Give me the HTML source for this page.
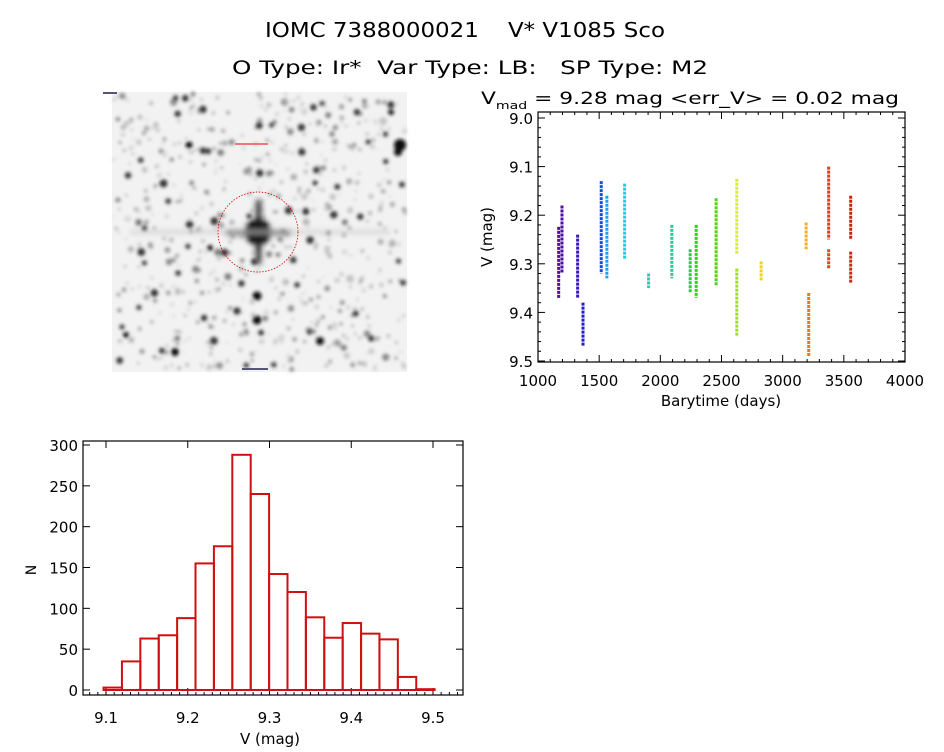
<!DOCTYPE html>
<html><head><meta charset="utf-8"><style>
body{margin:0;background:#fff;}
svg text{font-family:"DejaVu Sans","Liberation Sans",sans-serif;fill:#000;white-space:pre;}
</style></head><body>
<svg id="root" width="944" height="747" viewBox="0 0 944 747" xmlns="http://www.w3.org/2000/svg">
<text x="465" y="37" text-anchor="middle" font-size="20" textLength="400" lengthAdjust="spacingAndGlyphs" xml:space="preserve">IOMC 7388000021    V* V1085 Sco</text>
<text x="470" y="74" text-anchor="middle" font-size="19" textLength="476" lengthAdjust="spacingAndGlyphs" xml:space="preserve">O Type: Ir*  Var Type: LB:   SP Type: M2</text>
<g id="img">
<defs><filter id="bl" x="-1" y="-1" width="3" height="3"><feGaussianBlur stdDeviation="1.8"/></filter>
<filter id="bl2" x="-1" y="-1" width="3" height="3"><feGaussianBlur stdDeviation="3"/></filter></defs>
<rect x="112" y="92" width="295" height="280" fill="#f2f2f2"/>
<g id="stars" filter="url(#bl)"></g>
<g filter="url(#bl2)">
<circle cx="258" cy="232" r="13" fill="#000"/>
<rect x="226" y="230" width="64" height="5" fill="#222"/>
<rect x="256" y="200" width="5" height="64" fill="#222"/>
<rect x="130" y="231" width="260" height="2" fill="#bbb"/>
</g>
<circle cx="258" cy="232" r="40" fill="none" stroke="#c00" stroke-width="0.8" stroke-dasharray="1.5 1.5"/>
<rect x="235" y="143" width="33" height="2" fill="#e77"/>
<rect x="103" y="92" width="14" height="2" fill="#557"/>
<rect x="242" y="368" width="26" height="2" fill="#557"/>
</g>
<g id="lc"></g>
<g id="hist"></g>
</svg>
<script>
const NS="http://www.w3.org/2000/svg";
function mk(p,t,a){const e=document.createElementNS(NS,t);for(const k in a)e.setAttribute(k,a[k]);p.appendChild(e);return e;}
// decorative background stars
(function(){const g=document.getElementById('stars');let s=11;function r(){s=(s*16807)%2147483647;return s/2147483647;}
for(let i=0;i<600;i++){const x=114+r()*291,y=94+r()*276,rad=1+r()*r()*3,c=Math.floor(110+r()*110);
mk(g,'circle',{cx:x,cy:y,r:rad,fill:`rgb(${c},${c},${c})`});}
for(let i=0;i<60;i++){const x=114+r()*291,y=94+r()*276;
mk(g,'circle',{cx:x,cy:y,r:2.5+r()*1.5,fill:'#333'});}
[[400,145,6],[398,152,4],[189,145,3.5],[175,352,4],[320,341,4],[257,296,4.5],[257,320,4.5],[391,112,3],[126,335,3],[210,248,3]].forEach(d=>mk(g,'circle',{cx:d[0],cy:d[1],r:d[2],fill:'#111'}));})();

// ---- light curve data ----
const segTime=[1169,1196,1324,1368,1517,1563,1708,1904,2094,2244,2293,2456,2625,2625,2824,3192,3213,3376,3376,3556,3556];
const segVmin=[9.224,9.18,9.24,9.38,9.13,9.16,9.135,9.32,9.22,9.27,9.22,9.165,9.125,9.31,9.295,9.215,9.36,9.1,9.27,9.16,9.275];
const segVmax=[9.371,9.32,9.37,9.47,9.32,9.33,9.29,9.35,9.33,9.36,9.37,9.345,9.28,9.45,9.335,9.27,9.49,9.25,9.31,9.25,9.34];
const segColor=["#5a0a9a","#5010a8","#3a18b0","#2020c0","#1050e0","#20a0e0","#20d0e0","#20d0b0","#20d090","#20d040","#30d020","#50d020","#d8f020","#a0e020","#f0d020","#f0b020","#e08010","#e04010","#e04818","#d02010","#d02818"];
const lcXTicks=[1000,1500,2000,2500,3000,3500,4000];
const lcYTicks=[9.0,9.1,9.2,9.3,9.4,9.5];
(function(){const g=document.getElementById('lc');
const L=538,R=905,T=112,B=362;
const sx=t=>L+(t-1000)/3000*(R-L);
const sy=v=>118+(v-9.0)/0.5*(361-118);
const t=mk(g,'text',{x:690,y:104,'text-anchor':'middle','font-size':17,textLength:418,lengthAdjust:'spacingAndGlyphs'});
t.innerHTML='V<tspan font-size="11" dy="5">mad</tspan><tspan dy="-5"> = 9.28 mag &lt;err_V&gt; = 0.02 mag</tspan>';


mk(g,'rect',{x:L,y:T,width:R-L,height:B-T,fill:'none',stroke:'#000','stroke-width':1.2});
lcXTicks.forEach((v,i)=>{const x=sx(v);
mk(g,'line',{x1:x,y1:B,x2:x,y2:B-7,stroke:'#000'});mk(g,'line',{x1:x,y1:T,x2:x,y2:T+7,stroke:'#000'});
if(i<lcXTicks.length-1)for(let k=1;k<5;k++){const xm=sx(v+k*100);mk(g,'line',{x1:xm,y1:B,x2:xm,y2:B-3,stroke:'#000'});mk(g,'line',{x1:xm,y1:T,x2:xm,y2:T+3,stroke:'#000'});}
const tx=mk(g,'text',{x:x,y:386,'text-anchor':'middle','font-size':15});tx.textContent=v;

});
lcYTicks.forEach((v,i)=>{const y=sy(v);
mk(g,'line',{x1:L,y1:y,x2:L+7,y2:y,stroke:'#000'});mk(g,'line',{x1:R,y1:y,x2:R-7,y2:y,stroke:'#000'});
if(i<lcYTicks.length-1)for(let k=1;k<5;k++){const ym=sy(v+k*0.02);mk(g,'line',{x1:L,y1:ym,x2:L+3,y2:ym,stroke:'#000'});mk(g,'line',{x1:R,y1:ym,x2:R-3,y2:ym,stroke:'#000'});}
const ty=mk(g,'text',{x:533,y:y+6,'text-anchor':'end','font-size':15});ty.textContent=v.toFixed(1);

});
const xl=mk(g,'text',{x:721,y:406,'text-anchor':'middle','font-size':15});xl.textContent='Barytime (days)';


const yl=mk(g,'text',{x:0,y:0,'text-anchor':'middle','font-size':15,transform:'translate(492,237) rotate(-90)'});yl.textContent='V (mag)';


segTime.forEach((tt,i)=>{const l=mk(g,'line',{x1:sx(tt),x2:sx(tt),y1:sy(segVmin[i]),y2:sy(segVmax[i]),stroke:segColor[i],'stroke-width':3,'stroke-dasharray':'3 1'});

});
})();

// ---- histogram data ----
const binStart=9.097, binWidth=0.0225;
const binCounts=[3,35,63,67,88,155,176,288,240,142,120,89,64,82,69,62,16,1];
const hXTicks=[9.1,9.2,9.3,9.4,9.5];
const hYTicks=[0,50,100,150,200,250,300];
(function(){const g=document.getElementById('hist');
const L=83,R=463,T=441,B=695;
const sx=v=>106+(v-9.1)/0.4*(433-106);
const sy=n=>690-n/300*(690-445);
mk(g,'rect',{x:L,y:T,width:R-L,height:B-T,fill:'none',stroke:'#000','stroke-width':1.2});
hXTicks.forEach((v,i)=>{const x=sx(v);
mk(g,'line',{x1:x,y1:B,x2:x,y2:B-7,stroke:'#000'});mk(g,'line',{x1:x,y1:T,x2:x,y2:T+7,stroke:'#000'});
for(let k=-4;k<10;k++){const xm=sx(v+k*0.01);if(k%10&&xm>L&&xm<R&&(k>0||i==0)){mk(g,'line',{x1:xm,y1:B,x2:xm,y2:B-3,stroke:'#000'});}}
const tx=mk(g,'text',{x:x,y:723,'text-anchor':'middle','font-size':15});tx.textContent=v.toFixed(1);

});
hYTicks.forEach(v=>{const y=sy(v);
mk(g,'line',{x1:L,y1:y,x2:L+7,y2:y,stroke:'#000'});mk(g,'line',{x1:R,y1:y,x2:R-7,y2:y,stroke:'#000'});
const ty=mk(g,'text',{x:78,y:y+6,'text-anchor':'end','font-size':15});ty.textContent=v;

});
const xl=mk(g,'text',{x:270,y:744,'text-anchor':'middle','font-size':15});xl.textContent='V (mag)';


const yl=mk(g,'text',{x:0,y:0,'text-anchor':'middle','font-size':14,transform:'translate(36,570) rotate(-90)'});yl.textContent='N';


binCounts.forEach((n,i)=>{const x0=sx(binStart+i*binWidth),x1=sx(binStart+(i+1)*binWidth);
const r=mk(g,'rect',{x:x0,y:sy(n),width:x1-x0,height:sy(0)-sy(n),fill:'none',stroke:'#d01010','stroke-width':2});

});
})();
</script>
</body></html>
